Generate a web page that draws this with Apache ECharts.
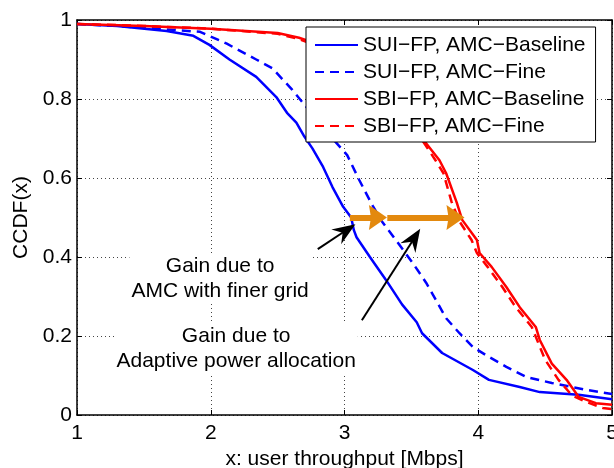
<!DOCTYPE html>
<html>
<head>
<meta charset="utf-8">
<script src="https://cdn.jsdelivr.net/npm/echarts@6/dist/echarts.min.js"></script>
<style>
  html, body { margin: 0; padding: 0; background: #fff; }
  #main { width: 614px; height: 468px; }
</style>
</head>
<body>
<div id="main"></div>
<script>
// CCDF curves of user throughput
var sui_base_x = [1.0, 1.3, 1.67, 1.87, 1.99, 2.14, 2.34, 2.49, 2.57, 2.64, 2.70, 2.76, 2.84, 2.91, 2.99, 3.05, 3.07, 3.09, 3.19, 3.31, 3.43, 3.54, 3.58, 3.73, 3.96, 4.08, 4.31, 4.46, 4.75, 5.0];
var sui_base_y = [0.99, 0.985, 0.972, 0.96, 0.937, 0.90, 0.856, 0.805, 0.765, 0.74, 0.705, 0.675, 0.628, 0.577, 0.527, 0.50, 0.468, 0.45, 0.40, 0.342, 0.28, 0.235, 0.207, 0.157, 0.114, 0.089, 0.071, 0.058, 0.051, 0.04];

var sui_fine_x = [1.0, 1.3, 1.72, 1.92, 2.12, 2.34, 2.46, 2.61, 2.69, 2.80, 2.91, 3.02, 3.11, 3.21, 3.28, 3.39, 3.51, 3.61, 3.76, 3.86, 3.96, 4.08, 4.21, 4.36, 4.55, 4.80, 5.0];
var sui_fine_y = [0.99, 0.985, 0.975, 0.97, 0.94, 0.90, 0.878, 0.823, 0.79, 0.745, 0.70, 0.658, 0.595, 0.53, 0.49, 0.44, 0.385, 0.335, 0.245, 0.207, 0.172, 0.147, 0.122, 0.096, 0.081, 0.064, 0.053];

var sbi_base_x = [1.0, 1.5, 2.0, 2.5, 2.66, 2.72, 3.0, 3.3, 3.5, 3.61, 3.71, 3.76, 3.84, 3.88, 3.99, 4.01, 4.10, 4.21, 4.31, 4.43, 4.46, 4.55, 4.66, 4.75, 4.88, 5.0];
var sbi_base_y = [0.99, 0.985, 0.978, 0.967, 0.955, 0.948, 0.92, 0.85, 0.76, 0.688, 0.645, 0.612, 0.537, 0.494, 0.443, 0.41, 0.375, 0.324, 0.273, 0.223, 0.19, 0.13, 0.089, 0.046, 0.03, 0.026];

var sbi_fine_x = [1.0, 1.5, 2.0, 2.5, 2.66, 2.72, 3.0, 3.3, 3.5, 3.58, 3.68, 3.74, 3.80, 3.86, 3.95, 3.99, 4.07, 4.18, 4.28, 4.40, 4.50, 4.60, 4.70, 4.80, 4.93, 5.0];
var sbi_fine_y = [0.99, 0.985, 0.978, 0.965, 0.952, 0.944, 0.91, 0.84, 0.75, 0.696, 0.645, 0.612, 0.54, 0.49, 0.443, 0.41, 0.375, 0.324, 0.273, 0.223, 0.14, 0.089, 0.05, 0.034, 0.018, 0.015];

var names = ['SUI\u2212FP, AMC\u2212Baseline', 'SUI\u2212FP, AMC\u2212Fine', 'SBI\u2212FP, AMC\u2212Baseline', 'SBI\u2212FP, AMC\u2212Fine'];

// annotations (data coordinates, end = centre of arrow head)
var gain_arrows = [[[3.04, 0.5], [3.25, 0.5]], [[3.32, 0.5], [3.83, 0.5]]];
var pointer_arrows = [[[2.80, 0.42], [3.01, 0.467]], [[3.13, 0.24], [3.52, 0.447]]];
var notes = ['Gain due to\nAMC with finer grid', 'Gain due to\nAdaptive power allocation'];
var notes_at = [[2.07, 0.345], [2.19, 0.168]];

var FONT = 'Liberation Sans, Arial, Helvetica, sans-serif';
var HEAD_FLAT = 'path://M9,0 L18,13 L9,11.5 L0,13 Z';
var HEAD_SWEPT = 'path://M7,0 L14,18 L7,12 L0,18 Z';

function pairs(xs, ys) {
    var out = [];
    for (var i = 0; i < xs.length; i++) out.push([xs[i], ys[i]]);
    return out;
}

function curve(name, xs, ys, color, dashed) {
    return {
        name: name,
        type: 'line',
        data: pairs(xs, ys),
        showSymbol: false,
        symbol: 'none',
        lineStyle: { color: color, width: 2.5, type: dashed ? [9, 6] : 'solid' },
        itemStyle: { color: color }
    };
}

function arrows(list, color, width, head, size) {
    return {
        silent: true,
        animation: false,
        symbolKeepAspect: true,
        label: { show: false },
        emphasis: { disabled: true },
        lineStyle: { color: color, width: width, type: 'solid' },
        itemStyle: { color: color },
        data: list.map(function (a) {
            return [
                { coord: a[0], symbol: 'none' },
                { coord: a[1], symbol: head, symbolSize: size, symbolKeepAspect: true }
            ];
        })
    };
}

var series = [
    curve(names[0], sui_base_x, sui_base_y, '#0000ff', false),
    curve(names[1], sui_fine_x, sui_fine_y, '#0000ff', true),
    curve(names[2], sbi_base_x, sbi_base_y, '#ff0000', false),
    curve(names[3], sbi_fine_x, sbi_fine_y, '#ff0000', true)
];

// text notes on first series
series[0].markPoint = {
    silent: true,
    symbol: 'rect',
    symbolSize: 1,
    itemStyle: { color: 'rgba(0,0,0,0)' },
    label: {
        show: true,
        position: 'inside',
        color: '#000',
        fontFamily: FONT,
        fontSize: 21,
        lineHeight: 25,
        align: 'center',
        backgroundColor: '#fff',
        padding: [0, 2]
    },
    data: notes.map(function (t, i) {
        return { coord: notes_at[i], value: t, label: { formatter: t } };
    })
};

series[2].markLine = arrows(pointer_arrows, '#000', 2, HEAD_SWEPT, 23);
series[3].markLine = arrows(gain_arrows, '#e3890e', 6, HEAD_FLAT, 25);

var axisLine = { show: true, onZero: false, lineStyle: { color: '#000', width: 1.5 } };
var tick = { show: true, inside: true, length: 5, lineStyle: { color: '#000', width: 1 } };
var grid_line = { show: true, lineStyle: { color: '#444', width: 1, type: [1, 3] } };

var option = {
    animation: false,
    backgroundColor: '#fff',
    textStyle: { fontFamily: FONT },
    grid: { left: 77, right: 2, top: 20, bottom: 53, containLabel: false, outerBoundsMode: 'none' },
    legend: {
        data: names,
        orient: 'vertical',
        left: 306,
        top: 27,
        width: 296,
        padding: [5, 10, 3, 8],
        itemWidth: 43,
        itemHeight: 14,
        itemGap: 1,
        backgroundColor: '#fff',
        borderColor: '#000',
        borderWidth: 1,
        borderRadius: 0,
        selectedMode: false,
        itemStyle: { opacity: 0 },
        textStyle: { color: '#000', fontSize: 21, lineHeight: 26, fontFamily: FONT }
    },
    xAxis: [{
        type: 'value',
        min: 1, max: 5, interval: 1,
        name: 'x: user throughput [Mbps]',
        nameLocation: 'middle',
        nameGap: 31,
        nameTextStyle: { color: '#000', fontSize: 21, fontFamily: FONT },
        axisLine: axisLine,
        axisTick: tick,
        axisLabel: { color: '#000', fontSize: 21, margin: 8, fontFamily: FONT },
        splitLine: grid_line
    }, {
        type: 'value',
        position: 'top',
        min: 1, max: 5, interval: 1,
        axisLine: axisLine,
        axisTick: tick,
        axisLabel: { show: false },
        splitLine: { show: false }
    }],
    yAxis: [{
        type: 'value',
        min: 0, max: 1, interval: 0.2,
        name: 'CCDF(x)',
        nameLocation: 'middle',
        nameGap: 43,
        nameTextStyle: { color: '#000', fontSize: 21, fontFamily: FONT },
        axisLine: axisLine,
        axisTick: tick,
        axisLabel: { color: '#000', fontSize: 21, margin: 5, fontFamily: FONT },
        splitLine: grid_line
    }, {
        type: 'value',
        position: 'right',
        min: 0, max: 1, interval: 0.2,
        axisLine: axisLine,
        axisTick: tick,
        axisLabel: { show: false },
        splitLine: { show: false }
    }],
    series: series
};

var myChart = echarts.init(document.getElementById('main'), null, { renderer: 'canvas' });
myChart.setOption(option);
</script>
</body>
</html>
